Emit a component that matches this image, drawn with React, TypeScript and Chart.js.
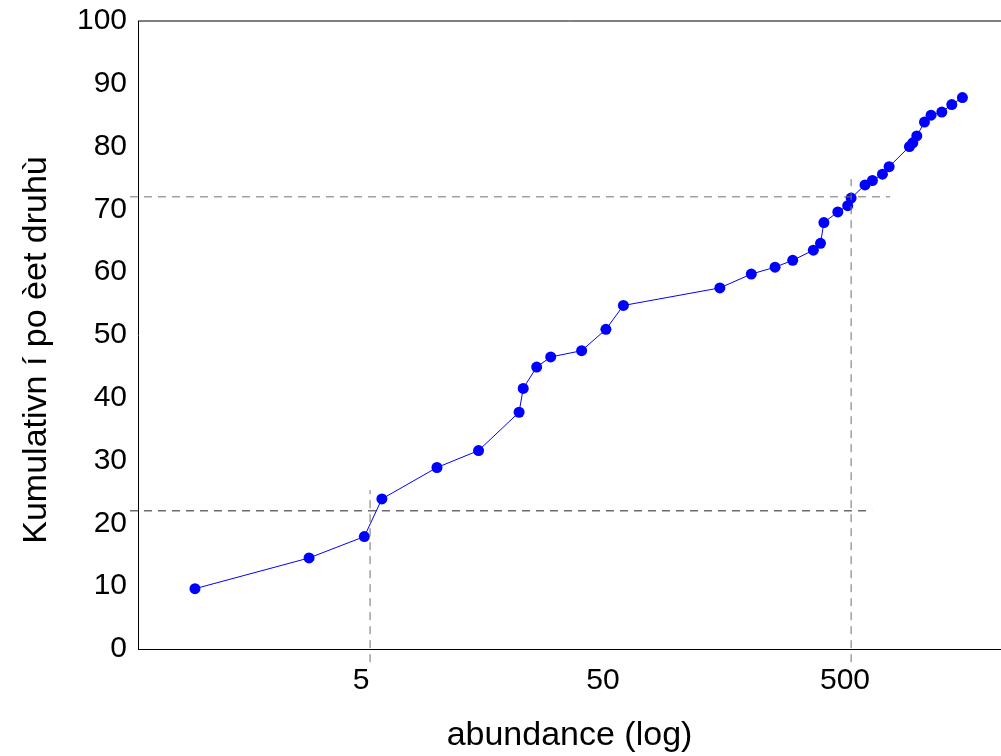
import React, { useEffect, useRef } from "react";
import { Chart, registerables } from "chart.js";

Chart.register(...registerables);

// ---- data ----
const abundance = [1.03, 3.05, 5.16, 6.1, 10.3, 15.3, 22.5, 23.4, 26.6, 30.4, 40.8, 51.4, 60.7, 152, 205, 257, 304, 370, 396, 409, 467, 513, 530, 605, 649, 714, 761, 923, 953, 990, 1065, 1134, 1256, 1381, 1528];
const cumulative = [9.6, 14.5, 17.9, 23.9, 28.9, 31.6, 37.7, 41.5, 44.9, 46.5, 47.5, 50.9, 54.7, 57.5, 59.7, 60.8, 61.9, 63.5, 64.6, 67.9, 69.6, 70.6, 71.8, 73.9, 74.6, 75.6, 76.8, 80.0, 80.6, 81.7, 83.9, 85.0, 85.5, 86.7, 87.8];

const xTickValues = [5, 50, 500];
const yTickStep = 10;

const xTitle = "abundance (log)";
const yTitle = "Kumulativn í po èet druhù";

// reference (dashed) lines
const lowerRefY = 22;
const upperRefY = 72;
const lowerRefX = 5.45;
const upperRefX = 530;
const refLineStartX = 0.555;
const lowerRefEndX = 647;
const upperRefEndX = 767;
const vRefBottomY = -2.1;
const lowerRefTopY = 25.3;
const upperRefTopY = 74.8;

const FONT = "'Liberation Sans', Arial, Helvetica, sans-serif";

const frameAndTitle = {
  id: "frameAndTitle",
  afterDraw(chart: any) {
    const { ctx, chartArea } = chart;
    ctx.save();
    ctx.strokeStyle = "#000";
    ctx.lineWidth = 1;
    ctx.beginPath();
    ctx.moveTo(chartArea.left, chartArea.top);
    ctx.lineTo(chartArea.right, chartArea.top);
    ctx.stroke();
    // y-axis title
    ctx.translate(37, chartArea.top + (chartArea.bottom - chartArea.top) / 2 + 15);
    ctx.rotate(-Math.PI / 2);
    ctx.fillStyle = "#000";
    ctx.font = `34px ${FONT}`;
    ctx.textAlign = "center";
    ctx.textBaseline = "middle";
    ctx.fillText(yTitle, 0, 0);
    ctx.restore();
  },
};

export default function App() {
  const ref = useRef<HTMLCanvasElement | null>(null);

  useEffect(() => {
    if (!ref.current) return;
    const dash = [8, 6];
    const refStyle = (color: string) => ({
      type: "line" as const,
      borderColor: color,
      borderWidth: 1,
      borderDash: dash,
      pointRadius: 0,
      fill: false,
      clip: false as any,
      order: 0,
    });
    const chart = new Chart(ref.current, {
      type: "line",
      data: {
        datasets: [
          {
            data: abundance.map((x, i) => ({ x, y: cumulative[i] })),
            borderColor: "#0000ff",
            backgroundColor: "#0000ff",
            borderWidth: 1,
            pointRadius: 5.5,
            pointBackgroundColor: "#0000ff",
            pointBorderWidth: 0,
            tension: 0,
            order: 1,
          },
          {
            ...refStyle("#222222"),
            data: [
              { x: refLineStartX, y: lowerRefY },
              { x: lowerRefEndX, y: lowerRefY },
            ],
          },
          {
            ...refStyle("#707070"),
            data: [
              { x: refLineStartX, y: upperRefY },
              { x: upperRefEndX, y: upperRefY },
            ],
          },
          {
            ...refStyle("#707070"),
            data: [
              { x: lowerRefX, y: vRefBottomY },
              { x: lowerRefX, y: lowerRefTopY },
            ],
          },
          {
            ...refStyle("#707070"),
            data: [
              { x: upperRefX, y: vRefBottomY },
              { x: upperRefX, y: upperRefTopY },
            ],
          },
        ],
      },
      options: {
        animation: false,
        responsive: false,
        maintainAspectRatio: false,
        layout: { autoPadding: false, padding: { top: 21, right: 0, left: 0, bottom: 0 } },
        plugins: {
          legend: { display: false },
          tooltip: { enabled: false },
        },
        scales: {
          x: {
            type: "logarithmic",
            min: 0.599,
            max: 2206,
            grid: { display: false, drawTicks: false },
            border: { display: true, color: "#000", width: 1 },
            afterBuildTicks: (scale: any) => {
              scale.ticks = xTickValues.map((v) => ({ value: v }));
            },
            afterFit: (scale: any) => {
              scale.height = 107;
              scale.paddingLeft = 0;
              scale.paddingRight = 0;
            },
            ticks: {
              color: "#000",
              font: { family: FONT, size: 30 },
              padding: 14,
              maxRotation: 0,
              autoSkip: false,
              callback: (v: any) => String(v),
            },
            title: {
              display: true,
              text: xTitle,
              color: "#000",
              font: { family: FONT, size: 34 },
              padding: { top: -3, bottom: 0 },
            },
          },
          y: {
            type: "linear",
            min: 0,
            max: 100,
            grid: { display: false, drawTicks: false },
            border: { display: true, color: "#000", width: 1 },
            afterFit: (scale: any) => {
              scale.width = 138;
              scale.paddingTop = 0;
              scale.paddingBottom = 0;
            },
            ticks: {
              stepSize: yTickStep,
              color: "#000",
              font: { family: FONT, size: 30 },
              padding: 11,
            },
            title: { display: false },
          },
        },
      },
      plugins: [frameAndTitle],
    });
    return () => chart.destroy();
  }, []);

  return (
    <div style={{ position: "absolute", left: 0, top: 0, width: 1001, height: 756, background: "#fff" }}>
      <canvas ref={ref} width={1001} height={756} style={{ width: 1001, height: 756, display: "block" }} />
    </div>
  );
}
